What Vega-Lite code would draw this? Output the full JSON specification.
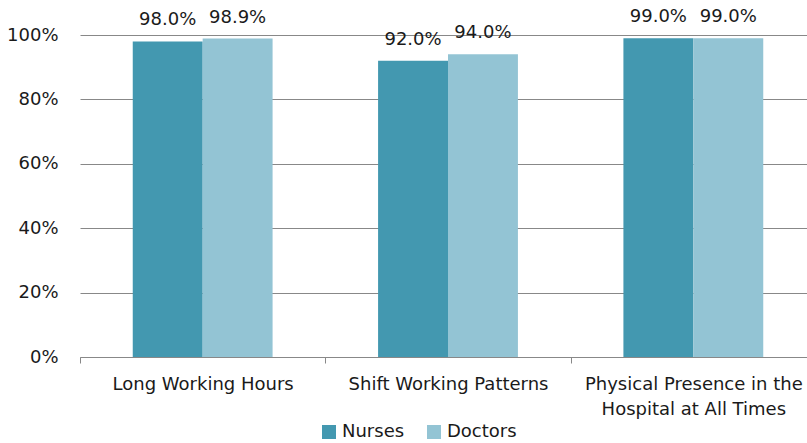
{
  "$schema": "https://vega.github.io/schema/vega-lite/v6.json",
  "width": 727,
  "height": 322,
  "autosize": "none",
  "padding": {"left": 80, "top": 35, "right": 0, "bottom": 86},
  "background": "white",
  "config": {"view": {"stroke": null}, "font": "DejaVu Sans"},
  "data": {
    "values": [
      {"category": "Long Working Hours", "group": "Nurses", "value": 0.98},
      {"category": "Long Working Hours", "group": "Doctors", "value": 0.989},
      {"category": "Shift Working Patterns", "group": "Nurses", "value": 0.92},
      {"category": "Shift Working Patterns", "group": "Doctors", "value": 0.94},
      {"category": "Physical Presence in the Hospital at All Times", "group": "Nurses", "value": 0.99},
      {"category": "Physical Presence in the Hospital at All Times", "group": "Doctors", "value": 0.99}
    ]
  },
  "encoding": {
    "x": {
      "field": "category",
      "type": "nominal",
      "sort": null,
      "scale": {"paddingInner": 0.43, "paddingOuter": 0.215, "range": [0, 736]},
      "axis": {
        "title": null,
        "labelAngle": 0,
        "labelFont": "DejaVu Sans",
        "labelFontSize": 18,
        "labelColor": "#1a1a1a",
        "labelPadding": 12,
        "labelLineHeight": 25,
        "labelLimit": 0,
        "labelExpr": "datum.value == 'Physical Presence in the Hospital at All Times' ? ['Physical Presence in the', 'Hospital at All Times'] : datum.value",
        "domainColor": "#888888",
        "tickColor": "#888888",
        "tickSize": 6,
        "tickOffset": -122.7,
        "labelOffset": 122.7,
        "grid": false
      }
    },
    "xOffset": {"field": "group", "type": "nominal", "sort": ["Nurses", "Doctors"]},
    "y": {
      "field": "value",
      "type": "quantitative",
      "scale": {"domain": [0, 1], "nice": false},
      "axis": {
        "title": null,
        "format": "%",
        "values": [0, 0.2, 0.4, 0.6, 0.8, 1],
        "domain": false,
        "ticks": false,
        "labelPadding": 22,
        "labelFont": "DejaVu Sans",
        "labelFontSize": 18,
        "labelColor": "#1a1a1a",
        "gridColor": "#888888",
        "gridWidth": 1
      }
    }
  },
  "layer": [
    {
      "mark": {"type": "bar"},
      "encoding": {
        "color": {
          "field": "group",
          "type": "nominal",
          "sort": ["Nurses", "Doctors"],
          "scale": {"domain": ["Nurses", "Doctors"], "range": ["#4398B0", "#93C4D4"]},
          "legend": {
            "title": null,
            "orient": "none",
            "direction": "horizontal",
            "legendX": 240,
            "legendY": 388,
            "symbolType": "square",
            "symbolSize": 196,
            "symbolStrokeWidth": 0,
            "labelFont": "DejaVu Sans",
            "labelFontSize": 18,
            "labelColor": "#1a1a1a",
            "labelOffset": 4,
            "columnPadding": 20
          }
        }
      }
    },
    {
      "mark": {"type": "text", "baseline": "alphabetic", "dy": -16, "font": "DejaVu Sans", "fontSize": 18, "color": "#1a1a1a"},
      "encoding": {
        "text": {"field": "value", "type": "quantitative", "format": ".1%"}
      }
    }
  ]
}
